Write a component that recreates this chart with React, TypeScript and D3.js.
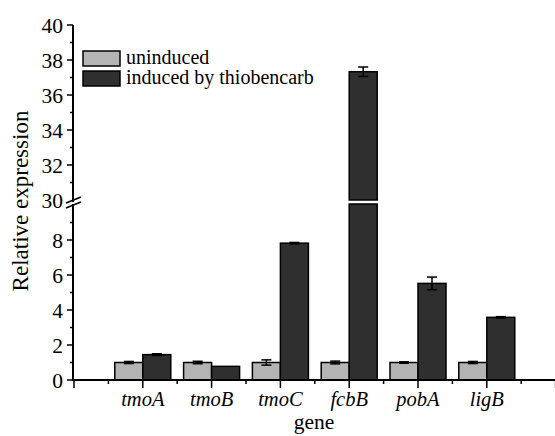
import React from "react";
import * as d3 from "d3";

const genes = ["tmoA", "tmoB", "tmoC", "fcbB", "pobA", "ligB"];
const uninduced = [1.0, 1.0, 1.0, 1.0, 1.0, 1.0];
const uninducedErr = [0.06, 0.07, 0.15, 0.08, 0.04, 0.06];
const induced = [1.45, 0.78, 7.82, 37.33, 5.52, 3.58];
const inducedErr = [0.05, 0.0, 0.04, 0.27, 0.36, 0.04];
const lowTicks = [0, 2, 4, 6, 8];
const highTicks = [30, 32, 34, 36, 38, 40];
const seriesNames = ["uninduced", "induced by thiobencarb"];
const seriesColors = ["#b4b4b4", "#2f2f2f"];

const W = 555;
const H = 436;
const FONT = "'Liberation Serif', 'Times New Roman', serif";

export default function App() {
  const x = d3.scaleLinear().domain([0, 7]).range([74, 555.6]);
  const yLow = d3.scaleLinear().domain([0, 10]).range([380, 205]);
  const yHigh = d3.scaleLinear().domain([30, 40]).range([200, 25]);
  const axisX = 73;
  const barW = 28;

  const yVal = (v: number) => (v <= 10 ? yLow(v) : yHigh(v));

  const xTicks = d3.range(0, 7.01, 0.5);
  const lowMinor = d3.range(1, 10, 2);
  const highMinor = d3.range(31, 40, 2);

  const renderErr = (cx: number, v: number, e: number, key: string) => {
    if (e <= 0) return null;
    const y1 = yVal(v + e);
    const y2 = yVal(v - e);
    return (
      <g key={key} stroke="#000" strokeWidth={1.5}>
        <line x1={cx} x2={cx} y1={y1} y2={y2} />
        <line x1={cx - 5} x2={cx + 5} y1={y1} y2={y1} />
        <line x1={cx - 5} x2={cx + 5} y1={y2} y2={y2} />
      </g>
    );
  };

  return (
    <svg
      width={W}
      height={H}
      style={{ position: "absolute", left: 0, top: 0, background: "#fff" }}
      fontFamily={FONT}
    >
      <rect x={0} y={0} width={W} height={H} fill="#fff" />
      {genes.map((g, i) => {
        const cx = x(i + 1);
        const out: React.ReactNode[] = [];
        out.push(
          <rect
            key={"u" + i}
            x={cx - barW}
            y={yVal(uninduced[i])}
            width={barW}
            height={380 - yVal(uninduced[i])}
            fill={seriesColors[0]}
            stroke="#000"
            strokeWidth={1.5}
          />
        );
        const v = induced[i];
        if (v <= 10) {
          out.push(
            <rect
              key={"i" + i}
              x={cx}
              y={yLow(v)}
              width={barW}
              height={380 - yLow(v)}
              fill={seriesColors[1]}
              stroke="#000"
              strokeWidth={1.5}
            />
          );
        } else {
          out.push(
            <rect
              key={"il" + i}
              x={cx}
              y={yLow(10) - 1}
              width={barW}
              height={380 - yLow(10) + 1}
              fill={seriesColors[1]}
              stroke="#000"
              strokeWidth={1.5}
            />
          );
          out.push(
            <rect
              key={"ih" + i}
              x={cx}
              y={yHigh(v)}
              width={barW}
              height={yHigh(30) - yHigh(v)}
              fill={seriesColors[1]}
              stroke="#000"
              strokeWidth={1.5}
            />
          );
        }
        out.push(renderErr(cx - barW / 2, uninduced[i], uninducedErr[i], "eu" + i));
        out.push(renderErr(cx + barW / 2, v, inducedErr[i], "ei" + i));
        return <g key={g}>{out}</g>;
      })}

      <line x1={axisX} x2={W} y1={380} y2={380} stroke="#000" strokeWidth={2} />
      {xTicks.map((t) => (
        <line
          key={"xt" + t}
          x1={x(t)}
          x2={x(t)}
          y1={380}
          y2={Number.isInteger(t) ? 388 : 384}
          stroke="#000"
          strokeWidth={1.5}
        />
      ))}
      {genes.map((g, i) => (
        <text
          key={"xl" + g}
          x={x(i + 1)}
          y={406}
          textAnchor="middle"
          fontSize={20.5}
          fontStyle="italic"
        >
          {g}
        </text>
      ))}
      <text x={314} y={429} textAnchor="middle" fontSize={21.5}>
        gene
      </text>

      <line x1={axisX} x2={axisX} y1={381} y2={yLow(10) - 1} stroke="#000" strokeWidth={2} />
      <line x1={axisX} x2={axisX} y1={yHigh(30) + 2} y2={yHigh(40)} stroke="#000" strokeWidth={2} />
      {lowTicks.map((t) => (
        <g key={"yl" + t}>
          <line x1={axisX - 6} x2={axisX} y1={yLow(t)} y2={yLow(t)} stroke="#000" strokeWidth={1.5} />
          <text x={63} y={yLow(t)} dy="0.36em" textAnchor="end" fontSize={21.5}>
            {t}
          </text>
        </g>
      ))}
      {lowMinor.map((t) => (
        <line key={"ylm" + t} x1={axisX - 3} x2={axisX} y1={yLow(t)} y2={yLow(t)} stroke="#000" strokeWidth={1.5} />
      ))}
      {highTicks.map((t) => (
        <g key={"yh" + t}>
          {t !== 30 && (
            <line x1={axisX - 6} x2={axisX} y1={yHigh(t)} y2={yHigh(t)} stroke="#000" strokeWidth={1.5} />
          )}
          <text x={63} y={yHigh(t)} dy="0.36em" textAnchor="end" fontSize={21.5}>
            {t}
          </text>
        </g>
      ))}
      {highMinor.map((t) => (
        <line key={"yhm" + t} x1={axisX - 3} x2={axisX} y1={yHigh(t)} y2={yHigh(t)} stroke="#000" strokeWidth={1.5} />
      ))}
      <g stroke="#000" strokeWidth={1.8}>
        <line x1={axisX - 7} x2={axisX + 8} y1={yHigh(30) + 3} y2={yHigh(30) - 3} />
        <line x1={axisX - 7} x2={axisX + 8} y1={yLow(10) + 3} y2={yLow(10) - 3} />
      </g>
      <text
        transform={`translate(28, 201) rotate(-90)`}
        textAnchor="middle"
        fontSize={23}
      >
        Relative expression
      </text>

      {seriesNames.map((n, i) => (
        <g key={"lg" + i}>
          <rect
            x={83}
            y={51 + i * 20}
            width={37}
            height={15}
            fill={seriesColors[i]}
            stroke="#000"
            strokeWidth={1.5}
          />
          <text x={126} y={51 + i * 20 + 13} fontSize={20}>
            {n}
          </text>
        </g>
      ))}
    </svg>
  );
}
